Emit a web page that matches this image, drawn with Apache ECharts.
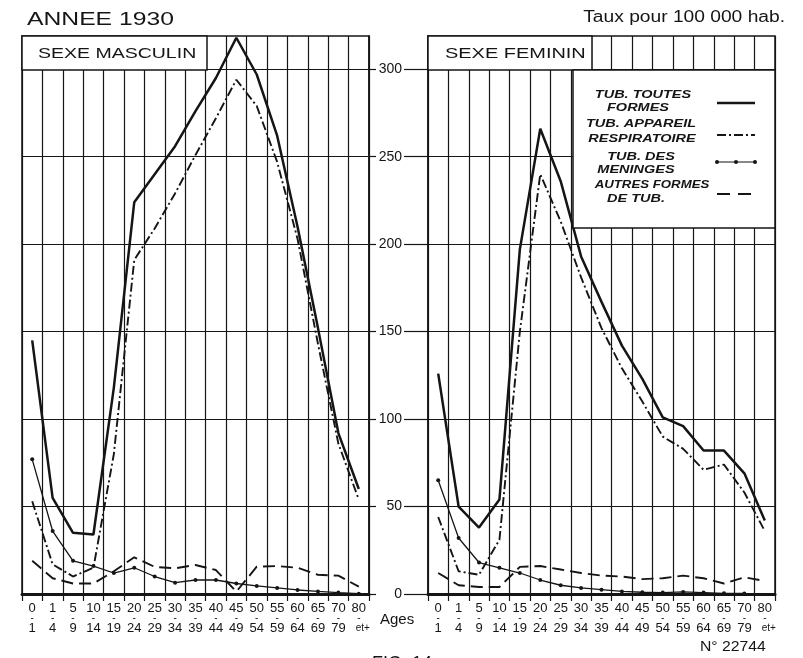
<!DOCTYPE html>
<html><head><meta charset="utf-8">
<script src="https://cdn.jsdelivr.net/npm/echarts@6/dist/echarts.min.js"></script>
<style>html,body{margin:0;padding:0;background:#fff}#c{width:803px;height:658px}</style>
</head><body><div id="c"></div>
<script>
// ---- data ----
const ageTop = ['0','1','5','10','15','20','25','30','35','40','45','50','55','60','65','70','80'];
const ageBottom = ['1','4','9','14','19','24','29','34','39','44','49','54','59','64','69','79','et+'];
const categories = ageTop.map((t, i) => t + '-' + ageBottom[i]);
const yTicks = [0, 50, 100, 150, 200, 250, 300];

const maleTotal = [145, 55, 35, 34, 118, 224, 240, 256, 276, 295, 318, 297, 262, 210, 152, 92, 60];
const maleResp  = [53, 17, 10, 15, 80, 191, 209, 229, 251, 272, 294, 279, 247, 203, 143, 86, 54];
const maleMen   = [77, 36, 19, 16, 12, 15, 10, 6.5, 8, 8, 6, 4.6, 3.5, 2.3, 1.5, 0.8, 0.2];
const maleOther = [19, 9, 6, 6, 13, 21, 15.5, 14.7, 16.6, 13.7, 1.3, 15.6, 16, 15, 11, 10.5, 4.2];

const femTotal = [126, 50, 38, 54, 197, 266, 236, 193, 167, 142, 123, 101, 96, 82, 82, 69, 42];
const femResp  = [44, 13, 11, 31, 150, 240, 213, 181, 152, 129, 110, 90, 83, 71, 74, 58, 36];
const femMen   = [65, 32, 18, 15, 12, 8, 5, 3.5, 2.5, 1.5, 1, 0.8, 1.2, 0.8, 0.4, 0.3, null];
const femOther = [12, 5, 4, 4, 15.5, 16, 14, 12, 10.5, 10, 8.5, 9, 10.5, 9, 6, 9.5, 7.5];

const seriesNames = ['TUB. TOUTES FORMES', 'TUB. APPAREIL RESPIRATOIRE', 'TUB. DES MENINGES', 'AUTRES FORMES DE TUB.'];

// ---- styles ----
const INK = '#151515';
const FONT = 'Liberation Sans';
const styles = [
  { lineStyle: { color: INK, width: 2.5, type: 'solid' }, symbol: 'none' },
  { lineStyle: { color: INK, width: 1.9, type: [9, 3, 2, 3] }, symbol: 'none' },
  { lineStyle: { color: INK, width: 1.3, type: 'solid' }, symbol: 'circle', symbolSize: 4 },
  { lineStyle: { color: INK, width: 1.9, type: [12, 6] }, symbol: 'none' }
];

function xAxisFor(gi) {
  return {
    gridIndex: gi, type: 'category', data: categories, boundaryGap: true,
    axisLine: { show: true, lineStyle: { color: INK, width: 3 } },
    axisTick: { show: true, length: 7, lineStyle: { color: INK, width: 1.2 } },
    splitLine: { show: true, lineStyle: { color: INK, width: 1.2 } },
    axisLabel: {
      interval: 0, margin: 9, color: INK, fontFamily: FONT,
      formatter: (v, i) => '{a|' + ageTop[i] + '}\n{d|-}\n{' + (i === 16 ? 'c' : 'a') + '|' + ageBottom[i] + '}',
      rich: {
        a: { fontSize: 13, lineHeight: 11, fontFamily: FONT, color: INK },
        d: { fontSize: 10, lineHeight: 9, fontFamily: FONT, color: INK },
        c: { fontSize: 10, lineHeight: 11, fontFamily: FONT, color: INK, padding: [0, 0, 0, 8] }
      }
    }
  };
}
function yAxisFor(gi) {
  return {
    gridIndex: gi, type: 'value', position: gi === 0 ? 'right' : 'left',
    min: 0, max: 319, interval: 50,
    axisLine: { show: true, lineStyle: { color: INK, width: 1.5 } },
    axisTick: { show: true, length: gi === 0 ? 7 : 24, customValues: yTicks, lineStyle: { color: INK, width: 1.2 } },
    axisLabel: {
      show: gi === 1, margin: 26, customValues: yTicks, color: INK, fontSize: 14, fontFamily: FONT,
      formatter: v => (v % 50 === 0 ? String(v) : '')
    },
    splitLine: { show: true, lineStyle: { color: INK, width: 1.2 } }
  };
}
function mk(gi, k, data) {
  return Object.assign({
    type: 'line', name: seriesNames[k], xAxisIndex: gi, yAxisIndex: gi, data: data,
    showSymbol: k === 2, itemStyle: { color: INK }, z: 3, silent: true, connectNulls: false
  }, styles[k]);
}

// ---- decorations (non-data) ----
function txt(s, x, y, size, opt) {
  opt = opt || {};
  return {
    type: 'text', x: x, y: y, z: 5, scaleX: opt.sx || 1,
    style: {
      text: s, fill: INK, font: (opt.weight || '') + ' ' + size + 'px "' + (opt.family || FONT) + '"',
      textAlign: opt.align || 'left', textVerticalAlign: 'middle'
    }
  };
}
const legendFont = { weight: 'italic bold', align: 'center', sx: 1.26 };
const legendTight = { weight: 'italic bold', align: 'center', sx: 1.15 };
const graphics = [
  { type: 'rect', z: 4, shape: { x: 22, y: 36, width: 185, height: 34 }, style: { fill: '#fff', stroke: INK, lineWidth: 1.5 } },
  { type: 'rect', z: 4, shape: { x: 428, y: 36, width: 164, height: 34 }, style: { fill: '#fff', stroke: INK, lineWidth: 1.5 } },
  { type: 'rect', z: 4, shape: { x: 573, y: 70, width: 202, height: 158 }, style: { fill: '#fff', stroke: INK, lineWidth: 1.5 } },
  txt('ANNEE 1930', 27, 20, 19, { sx: 1.3 }),
  txt('Taux pour 100 000 hab.', 785, 18, 16, { align: 'right', sx: 1.2 }),
  txt('SEXE MASCULIN', 38, 54, 15, { sx: 1.3 }),
  txt('SEXE FEMININ', 445, 54, 15, { sx: 1.33 }),
  txt('TUB. TOUTES', 643, 95, 11.5, legendFont),
  txt('FORMES', 638, 108, 11.5, legendFont),
  txt('TUB. APPAREIL', 641, 124, 11.5, legendFont),
  txt('RESPIRATOIRE', 642, 139, 11.5, legendFont),
  txt('TUB. DES', 641, 157, 11.5, legendFont),
  txt('MENINGES', 636, 170, 11.5, legendFont),
  txt('AUTRES FORMES', 652, 185, 11.5, legendTight),
  txt('DE TUB.', 636, 199, 11.5, legendFont),
  { type: 'line', z: 5, shape: { x1: 717, y1: 103, x2: 755, y2: 103 }, style: { stroke: INK, lineWidth: 2.4 } },
  { type: 'line', z: 5, shape: { x1: 717, y1: 135, x2: 755, y2: 135 }, style: { stroke: INK, lineWidth: 1.8, lineDash: [9, 3, 2, 3] } },
  { type: 'line', z: 5, shape: { x1: 717, y1: 162, x2: 755, y2: 162 }, style: { stroke: INK, lineWidth: 1.2 } },
  { type: 'circle', z: 5, shape: { cx: 717, cy: 162, r: 2 }, style: { fill: INK } },
  { type: 'circle', z: 5, shape: { cx: 736, cy: 162, r: 2 }, style: { fill: INK } },
  { type: 'circle', z: 5, shape: { cx: 755, cy: 162, r: 2 }, style: { fill: INK } },
  { type: 'line', z: 5, shape: { x1: 717, y1: 194, x2: 755, y2: 194 }, style: { stroke: INK, lineWidth: 1.8, lineDash: [13, 8] } },
  txt('Ages', 380, 620, 15),
  txt('N° 22744', 700, 647, 15, { sx: 1.05 }),
  txt('FIG. 14', 372, 664, 18)
];

const chart = echarts.init(document.getElementById('c'));
chart.setOption({
  animation: false,
  backgroundColor: '#fff',
  grid: [
    { left: 22, top: 36, width: 347, height: 558, show: true, borderColor: INK, borderWidth: 1.5 },
    { left: 428, top: 36, width: 347, height: 558, show: true, borderColor: INK, borderWidth: 1.5 }
  ],
  xAxis: [xAxisFor(0), xAxisFor(1)],
  yAxis: [yAxisFor(0), yAxisFor(1)],
  series: [
    mk(0, 0, maleTotal), mk(0, 1, maleResp), mk(0, 2, maleMen), mk(0, 3, maleOther),
    mk(1, 0, femTotal), mk(1, 1, femResp), mk(1, 2, femMen), mk(1, 3, femOther)
  ],
  graphic: graphics
});
</script>
</body></html>
